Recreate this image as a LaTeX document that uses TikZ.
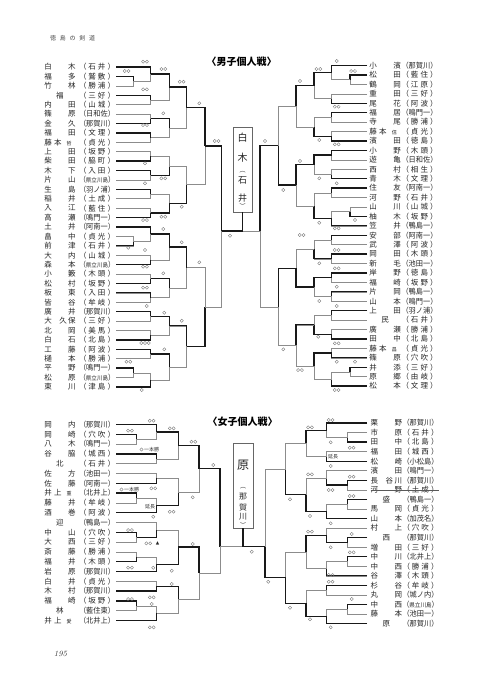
\documentclass[tikz,border=0pt]{standalone}
\usepackage{fontspec}
\usepackage{graphicx}
\newfontfamily\cjk{Noto Sans CJK JP}
\newfontfamily\dejavu{DejaVu Sans}
\newcommand\nB[2]{\hbox to 31.5pt{#1\hfill #2}}
\newcommand\nS[1]{\hbox to 31.5pt{\hfill #1\hfill}}
\newcommand\nT[3]{\hbox to 31.5pt{#1\hfill #2\hspace{1.5pt}#3}}
\newcommand\nX[3]{\hbox to 31.5pt{#1\hspace{2.5pt}#2\hfill{\fontsize{5}{5}\selectfont #3}\hspace{4pt}}}
\newcommand\scB[2]{\hbox to 36pt{（\hfill #1\hfill #2\hfill ）}}
\newcommand\scC[1]{\resizebox{36pt}{\height}{（#1）}}
\newcommand\scD[1]{\resizebox{36pt}{\height}{（{\fontsize{6}{6}\selectfont #1}）}}
\newcommand\mt[5]{%
  \draw[ln] (#2) -- (#2 -| #4) -- (#3 -| #4) -- (#3);
  \path (#2 -| #4) -- (#3 -| #4) coordinate[midway] (#1);
  \ifnum#5=1 \draw[wn] (#2) -- (#2 -| #4) -- (#1);\fi
  \ifnum#5=2 \draw[wn] (#3) -- (#3 -| #4) -- (#1);\fi
}
\newcommand\mk[3]{\foreach \k in {1,...,#3}{\draw[mkst] ({#1+(\k-(#3+1)/2)*3.8},#2) circle[radius=1.6pt];}}
\begin{document}
\begin{tikzpicture}[x=1pt,y=-1pt,
  ln/.style={line width=0.55pt, draw=black!45},
  wn/.style={line width=1.3pt, draw=black!90},
  txt/.style={inner sep=0pt, outer sep=0pt, anchor=west, text=black!85, font=\cjk\fontsize{7.5}{7.5}\selectfont},
  mkst/.style={line width=0.35pt, draw=black!55},
  small/.style={inner sep=0pt, anchor=west, text=black!80, font=\cjk\fontsize{5}{5}\selectfont},
  boxch/.style={inner sep=0pt, text=black!85}]
\useasboundingbox (0,0) rectangle (480,689);
\fill[white] (0,0) rectangle (480,689);
% level x positions
\coordinate (xa1) at (133.3,0); \coordinate (xa2) at (150.7,0); \coordinate (xa3) at (169.3,0);
\coordinate (xa4) at (186.7,0); \coordinate (xa5) at (205,0); \coordinate (xa6) at (221.7,0);
\coordinate (xb1) at (350,0); \coordinate (xb2) at (331.7,0); \coordinate (xb3) at (314,0);
\coordinate (xb4) at (296,0); \coordinate (xb5) at (278.3,0); \coordinate (xb6) at (260,0);
\coordinate (fa1) at (136.7,0); \coordinate (fa2) at (156.7,0); \coordinate (fa3) at (178.3,0);
\coordinate (fa4) at (199,0); \coordinate (fa5) at (220,0);
\coordinate (fb1) at (347.7,0); \coordinate (fb2) at (326.7,0); \coordinate (fb3) at (306,0);
\coordinate (fb4) at (285.7,0); \coordinate (fb5) at (265,0);
% headers
\node[inner sep=0pt, anchor=west, text=black!70, font=\cjk\fontsize{6}{6}\selectfont] (hdr) at (50,38) {\hbox to 45pt{徳\hfill 島\hfill の\hfill 剣\hfill 道}};
\node[inner sep=0pt, font=\cjk\bfseries\fontsize{10}{10}\selectfont] (tm) at (241.5,62) {〈男子個人戦〉};
\node[inner sep=0pt, font=\cjk\bfseries\fontsize{10}{10}\selectfont] (tf) at (242.5,421.7) {〈女子個人戦〉};
\node[inner sep=0pt, text=black!80, font=\fontsize{8}{8}\selectfont\itshape] (pg) at (60.5,654) {195};
% male left names
\foreach \xN/\xS [count=\i from 0] in {
\nB{白}{木}/\scB{石}{井}, \nB{福}{多}/\scB{鷲}{敷}, \nB{竹}{林}/\scB{勝}{浦}, \nS{福}/\scB{三}{好},
\nB{内}{田}/\scB{山}{城}, \nB{篠}{原}/\scC{日和佐}, \nB{金}{久}/\scC{那賀川}, \nB{福}{田}/\scB{文}{理},
\nX{藤}{本}{哲}/\scB{貞}{光}, \nB{上}{田}/\scB{坂}{野}, \nB{柴}{田}/\scB{脇}{町}, \nB{木}{下}/\scB{入}{田},
\nB{片}{山}/\scD{県立川島}, \nB{生}{島}/\scC{羽ノ浦}, \nB{稲}{井}/\scB{土}{成}, \nB{入}{江}/\scB{藍}{住},
\nB{高}{瀬}/\scC{鳴門一}, \nB{土}{井}/\scC{阿南一}, \nB{畠}{中}/\scB{貞}{光}, \nB{前}{津}/\scB{石}{井},
\nB{大}{内}/\scB{山}{城}, \nB{森}{本}/\scD{県立川島}, \nB{小}{籔}/\scB{木}{頭}, \nB{松}{村}/\scB{坂}{野},
\nB{板}{東}/\scB{入}{田}, \nB{皆}{谷}/\scB{牟}{岐}, \nB{廣}{井}/\scC{那賀川}, \nT{大}{久}{保}/\scB{三}{好},
\nB{北}{岡}/\scB{美}{馬}, \nB{白}{石}/\scB{北}{島}, \nB{工}{藤}/\scB{阿}{波}, \nB{樋}{本}/\scB{勝}{浦},
\nB{平}{野}/\scC{鳴門一}, \nB{松}{原}/\scD{県立川島}, \nB{東}{川}/\scB{津}{島}}{
  \node[txt] (mlN\i) at (44.25,{67+9.41*\i}) {\xN};
  \node[txt] (mlS\i) at (79,{67+9.41*\i}) {\xS};
  \coordinate (mlL\i) at (116,{67+9.41*\i});
}
% male right names
\foreach \xN/\xS [count=\i from 0] in {
\nB{小}{濱}/\scC{那賀川}, \nB{松}{田}/\scB{藍}{住}, \nB{鶴}{岡}/\scB{江}{原}, \nB{重}{田}/\scB{三}{好},
\nB{尾}{花}/\scB{阿}{波}, \nB{福}{居}/\scC{鳴門一}, \nB{寺}{尾}/\scB{勝}{浦}, \nX{藤}{本}{信}/\scB{貞}{光},
\nB{濱}{田}/\scB{徳}{島}, \nB{小}{野}/\scB{木}{頭}, \nB{遊}{亀}/\scC{日和佐}, \nB{西}{村}/\scB{相}{生},
\nB{青}{木}/\scB{文}{理}, \nB{住}{友}/\scC{阿南一}, \nB{河}{野}/\scB{石}{井}, \nB{山}{川}/\scB{山}{城},
\nB{柚}{木}/\scB{坂}{野}, \nB{笠}{井}/\scC{鴨島一}, \nB{安}{部}/\scC{阿南一}, \nB{武}{澤}/\scB{阿}{波},
\nB{岡}{田}/\scB{木}{頭}, \nB{新}{毛}/\scC{池田一}, \nB{岸}{野}/\scB{徳}{島}, \nB{福}{崎}/\scB{坂}{野},
\nB{片}{岡}/\scC{鴨島一}, \nB{山}{本}/\scC{鳴門一}, \nB{上}{田}/\scC{羽ノ浦}, \nS{民}/\scB{石}{井},
\nB{廣}{瀬}/\scB{勝}{浦}, \nB{田}{中}/\scB{北}{島}, \nX{藤}{本}{昌}/\scB{貞}{光}, \nB{篠}{原}/\scB{穴}{吹},
\nB{井}{添}/\scB{三}{好}, \nB{原}{郷}/\scB{由}{岐}, \nB{松}{本}/\scB{文}{理}}{
  \node[txt] (mrN\i) at (369.25,{65.5+9.43*\i}) {\xN};
  \node[txt] (mrS\i) at (401.5,{65.5+9.43*\i}) {\xS};
  \coordinate (mrL\i) at (367,{65.5+9.43*\i});
}
% female left names
\foreach \xN/\xS [count=\i from 0] in {
\nB{岡}{内}/\scC{那賀川}, \nB{岡}{崎}/\scB{穴}{吹}, \nB{八}{木}/\scC{鳴門一}, \nB{谷}{脇}/\scB{城}{西},
\nS{北}/\scB{石}{井}, \nB{佐}{方}/\scC{池田一}, \nB{佐}{藤}/\scC{阿南一}, \nX{井}{上}{重}/\scC{北井上},
\nB{藤}{井}/\scB{牟}{岐}, \nB{酒}{巻}/\scB{阿}{波}, \nS{迎}/\scC{鴨島一}, \nB{中}{山}/\scB{穴}{吹},
\nB{大}{西}/\scB{三}{好}, \nB{斎}{藤}/\scB{勝}{浦}, \nB{福}{井}/\scB{木}{頭}, \nB{岩}{原}/\scC{那賀川},
\nB{白}{井}/\scB{貞}{光}, \nB{木}{村}/\scC{那賀川}, \nB{福}{崎}/\scB{坂}{野}, \nS{林}/\scC{藍住東},
\nX{井}{上}{愛}/\scC{北井上}}{
  \node[txt] (flN\i) at (44.25,{424.5+9.8*\i}) {\xN};
  \node[txt] (flS\i) at (79,{424.5+9.8*\i}) {\xS};
  \coordinate (flL\i) at (116,{424.5+9.8*\i});
}
% female right names
\foreach \xN/\xS [count=\i from 0] in {
\nB{栗}{野}/\scC{那賀川}, \nB{市}{原}/\scB{石}{井}, \nB{田}{中}/\scB{北}{島}, \nB{福}{田}/\scB{城}{西},
\nB{松}{崎}/\scC{小松島}, \nB{濱}{田}/\scC{鳴門一}, \nT{長}{谷}{川}/\scC{那賀川}, \nB{河}{野}/\scB{土}{成},
\nS{盛}/\scC{鴨島一}, \nB{馬}{岡}/\scB{貞}{光}, \nB{山}{本}/\scC{加茂名}, \nB{村}{上}/\scB{穴}{吹},
\nS{西}/\scC{那賀川}, \nB{増}{田}/\scB{三}{好}, \nB{中}{川}/\scC{北井上}, \nB{中}{西}/\scB{勝}{浦},
\nB{谷}{澤}/\scB{木}{頭}, \nB{杉}{谷}/\scB{牟}{岐}, \nB{丸}{岡}/\scC{城ノ内}, \nB{中}{西}/\scD{県立川島},
\nB{藤}{本}/\scC{池田一}, \nS{原}/\scC{那賀川}}{
  \node[txt] (frN\i) at (370.5,{423+9.55*\i}) {\xN};
  \node[txt] (frS\i) at (402.5,{423+9.55*\i}) {\xS};
  \coordinate (frL\i) at (367,{423+9.55*\i});
}
\draw[line width=0.5pt, black!65] (frN7.west) -- (frS7.east);
% ===== male left bracket =====
\mt{mlA1}{mlL1}{mlL2}{xa1}{1}
\mt{mlA2}{mlL18}{mlL19}{xa1}{2}
\mt{mlA3}{mlL32}{mlL33}{xa1}{1}
\mt{mlB0}{mlL0}{mlA1}{xa2}{1}
\mt{mlB1}{mlL3}{mlL4}{xa2}{1}
\mt{mlB2}{mlL5}{mlL6}{xa2}{2}
\mt{mlB3}{mlL7}{mlL8}{xa2}{1}
\mt{mlB4}{mlL9}{mlL10}{xa2}{2}
\mt{mlB5}{mlL11}{mlL12}{xa2}{1}
\mt{mlB6}{mlL13}{mlL14}{xa2}{1}
\mt{mlB7}{mlL15}{mlL16}{xa2}{2}
\mt{mlB8}{mlL17}{mlA2}{xa2}{1}
\mt{mlB9}{mlL20}{mlL21}{xa2}{2}
\mt{mlB10}{mlL22}{mlL23}{xa2}{2}
\mt{mlB11}{mlL24}{mlL25}{xa2}{1}
\mt{mlB12}{mlL26}{mlL27}{xa2}{1}
\mt{mlB13}{mlL28}{mlL29}{xa2}{2}
\mt{mlB14}{mlL30}{mlL31}{xa2}{1}
\mt{mlB15}{mlA3}{mlL34}{xa2}{2}
\mt{mlC0}{mlB0}{mlB1}{xa3}{1}
\mt{mlC1}{mlB2}{mlB3}{xa3}{1}
\mt{mlC2}{mlB4}{mlB5}{xa3}{2}
\mt{mlC3}{mlB6}{mlB7}{xa3}{2}
\mt{mlC4}{mlB8}{mlB9}{xa3}{1}
\mt{mlC5}{mlB10}{mlB11}{xa3}{1}
\mt{mlC6}{mlB12}{mlB13}{xa3}{1}
\mt{mlC7}{mlB14}{mlB15}{xa3}{1}
\mt{mlD0}{mlC0}{mlC1}{xa4}{1}
\mt{mlD1}{mlC2}{mlC3}{xa4}{2}
\mt{mlD2}{mlC4}{mlC5}{xa4}{1}
\mt{mlD3}{mlC6}{mlC7}{xa4}{1}
\mt{mlE0}{mlD0}{mlD1}{xa5}{1}
\mt{mlE1}{mlD2}{mlD3}{xa5}{2}
% ===== male right bracket =====
\mt{mrA1}{mrL1}{mrL2}{xb1}{1}
\mt{mrA2}{mrL15}{mrL16}{xb1}{2}
\mt{mrA3}{mrL32}{mrL33}{xb1}{1}
\mt{mrB0}{mrL0}{mrA1}{xb2}{1}
\mt{mrB1}{mrL3}{mrL4}{xb2}{2}
\mt{mrB2}{mrL5}{mrL6}{xb2}{1}
\mt{mrB3}{mrL7}{mrL8}{xb2}{2}
\mt{mrB4}{mrL9}{mrL10}{xb2}{1}
\mt{mrB5}{mrL11}{mrL12}{xb2}{2}
\mt{mrB6}{mrL13}{mrL14}{xb2}{1}
\mt{mrB7}{mrA2}{mrL17}{xb2}{2}
\mt{mrB8}{mrL18}{mrL19}{xb2}{1}
\mt{mrB9}{mrL20}{mrL21}{xb2}{1}
\mt{mrB10}{mrL22}{mrL23}{xb2}{1}
\mt{mrB11}{mrL24}{mrL25}{xb2}{1}
\mt{mrB12}{mrL26}{mrL27}{xb2}{1}
\mt{mrB13}{mrL28}{mrL29}{xb2}{2}
\mt{mrB14}{mrL30}{mrL31}{xb2}{2}
\mt{mrB15}{mrA3}{mrL34}{xb2}{2}
\mt{mrC0}{mrB0}{mrB1}{xb3}{1}
\mt{mrC1}{mrB2}{mrB3}{xb3}{2}
\mt{mrC2}{mrB4}{mrB5}{xb3}{1}
\mt{mrC3}{mrB6}{mrB7}{xb3}{2}
\mt{mrC4}{mrB8}{mrB9}{xb3}{2}
\mt{mrC5}{mrB10}{mrB11}{xb3}{1}
\mt{mrC6}{mrB12}{mrB13}{xb3}{2}
\mt{mrC7}{mrB14}{mrB15}{xb3}{1}
\mt{mrD0}{mrC0}{mrC1}{xb4}{1}
\mt{mrD1}{mrC2}{mrC3}{xb4}{1}
\mt{mrD2}{mrC4}{mrC5}{xb4}{2}
\mt{mrD3}{mrC6}{mrC7}{xb4}{1}
\mt{mrE0}{mrD0}{mrD1}{xb5}{2}
\mt{mrE1}{mrD2}{mrD3}{xb5}{1}
% ===== male final =====
\node[draw=black!60, line width=0.5pt, minimum width=19pt, minimum height=85pt, inner sep=0pt] (mbox) at (242.7,169.5) {};
\node[boxch, font=\cjk\fontsize{10}{10}\selectfont] (mb1) at (242.7,138) {白};
\node[boxch, font=\cjk\fontsize{10}{10}\selectfont] (mb2) at (242.7,158) {木};
\node[boxch, font=\cjk\fontsize{6}{6}\selectfont] (mb3) at (242.7,172.5) {︵};
\node[boxch, font=\cjk\fontsize{9}{9}\selectfont] (mb4) at (242.7,180.5) {石};
\node[boxch, font=\cjk\fontsize{9}{9}\selectfont] (mb5) at (242.7,198) {井};
\node[boxch, font=\cjk\fontsize{6}{6}\selectfont] (mb6) at (242.7,206) {︶};
\coordinate (mcL) at (221.7,231); \coordinate (mcR) at (260,231);
\draw[ln] (mlE0) -- (mlE0 -| xa6) -- (mlE1 -| xa6) -- (mlE1);
\draw[wn] (mlE0) -- (mlE0 -| xa6) -- (mcL);
\draw[ln] (mrE0) -- (mrE0 -| xb6) -- (mrE1 -| xb6) -- (mrE1);
\draw[wn] (mrE0) -- (mrE0 -| xb6) -- (mcR);
\draw[ln] (mcL) -- (mcR);
\draw[wn] (mbox.south) -- (mbox.south |- mcL) -- (mcL);
% ===== female left bracket =====
\mt{flA1}{flL1}{flL2}{fa1}{1}
\mt{flA2}{flL7}{flL8}{fa1}{1}
\mt{flA3}{flL11}{flL12}{fa1}{1}
\mt{flA4}{flL13}{flL14}{fa1}{2}
\mt{flA5}{flL18}{flL19}{fa1}{1}
\mt{flB0}{flL0}{flA1}{fa2}{1}
\mt{flB1}{flL3}{flL4}{fa2}{1}
\mt{flB2}{flL5}{flL6}{fa2}{2}
\mt{flB3}{flA2}{flL9}{fa2}{2}
\mt{flB4}{flL10}{flA3}{fa2}{2}
\mt{flB5}{flA4}{flL15}{fa2}{2}
\mt{flB6}{flL16}{flL17}{fa2}{2}
\mt{flB7}{flA5}{flL20}{fa2}{2}
\mt{flC0}{flB0}{flB1}{fa3}{1}
\mt{flC1}{flB2}{flB3}{fa3}{2}
\mt{flC2}{flB4}{flB5}{fa3}{2}
\mt{flC3}{flB6}{flB7}{fa3}{1}
\mt{flD0}{flC0}{flC1}{fa4}{1}
\mt{flD1}{flC2}{flC3}{fa4}{1}
% ===== female right bracket =====
\mt{frA1}{frL1}{frL2}{fb1}{2}
\mt{frA2}{frL6}{frL7}{fb1}{1}
\mt{frA3}{frL8}{frL9}{fb1}{1}
\mt{frA4}{frL12}{frL13}{fb1}{1}
\mt{frA5}{frL14}{frL15}{fb1}{1}
\mt{frA6}{frL19}{frL20}{fb1}{1}
\mt{frB0}{frL0}{frA1}{fb2}{1}
\mt{frB1}{frL3}{frL4}{fb2}{2}
\mt{frB2}{frL5}{frA2}{fb2}{2}
\mt{frB3}{frA3}{frL10}{fb2}{2}
\mt{frB4}{frL11}{frA4}{fb2}{2}
\mt{frB5}{frA5}{frL16}{fb2}{2}
\mt{frB6}{frL17}{frL18}{fb2}{1}
\mt{frB7}{frA6}{frL21}{fb2}{2}
\mt{frC0}{frB0}{frB1}{fb3}{1}
\mt{frC1}{frB2}{frB3}{fb3}{2}
\mt{frC2}{frB4}{frB5}{fb3}{1}
\mt{frC3}{frB6}{frB7}{fb3}{2}
\mt{frD0}{frC0}{frC1}{fb4}{2}
\mt{frD1}{frC2}{frC3}{fb4}{2}
% ===== female final =====
\node[draw=black!60, line width=0.5pt, minimum width=20pt, minimum height=85pt, inner sep=0pt] (fbox) at (243,485.5) {};
\node[boxch, font=\cjk\fontsize{12}{12}\selectfont] (fb1c) at (243,465) {原};
\node[boxch, font=\cjk\fontsize{6}{6}\selectfont] (fb2c) at (243,488) {︵};
\node[boxch, font=\cjk\fontsize{8}{8}\selectfont] (fb3c) at (243,497) {那};
\node[boxch, font=\cjk\fontsize{8}{8}\selectfont] (fb4c) at (243,507) {賀};
\node[boxch, font=\cjk\fontsize{8}{8}\selectfont] (fb5c) at (243,517) {川};
\node[boxch, font=\cjk\fontsize{6}{6}\selectfont] (fb6c) at (243,524.5) {︶};
\coordinate (fcL) at (220,546.7); \coordinate (fcR) at (265,546.7);
\draw[ln] (flD0) -- (flD0 -| fa5) -- (flD1 -| fa5) -- (flD1);
\draw[wn] (flD0) -- (flD0 -| fa5) -- (fcL);
\draw[ln] (frD0) -- (frD0 -| fb5) -- (frD1 -| fb5) -- (frD1);
\draw[wn] (frD1) -- (frD1 -| fb5) -- (fcR);
\draw[ln] (fcL) -- (fcR);
\draw[wn] (fbox.south) -- (fbox.south |- fcR) -- (fcR);
% ===== annotations =====
\draw[mkst] (141.5,449.5) circle[radius=1.6pt];
\node[small] (ip1) at (144,449.5) {一本勝};
\draw[mkst] (121.5,489.5) circle[radius=1.6pt];
\node[small] (ip2) at (124,489.5) {一本勝};
\node[small] (en1) at (145,507) {延長};
\node[small] (en2) at (328,457) {延長};
\node[inner sep=0pt, text=black!85, font=\dejavu\fontsize{4.5}{4.5}\selectfont] (tri) at (157.5,543.3) {▲};
\foreach \mx/\my/\mn in {
145/61.7/2, 126.7/71/2, 163.3/69/2, 181.7/81.7/2, 145/89.3/2, 199.3/103.3/1, 163.3/113.3/1,
145/125/2, 216.7/141/2, 145/163.3/1, 163.3/178.3/2, 145/183.3/1, 181.7/206.7/1, 163.3/216.7/2,
145/220/2, 163.3/229/1, 230/235.7/1, 181.7/242.3/1, 128.3/247.7/1, 145/250/1, 199.3/262.3/1,
145/266.7/2, 163.3/273.3/1, 145/287.7/2, 146.7/306/1, 164.3/312.7/1, 181.7/320.7/1, 145/343/3,
164.3/349.3/1, 128.3/361.7/2, 141.7/390/1,
336.7/61/1, 318.3/69/2, 353/71/2, 300/81/1, 336.7/106.7/2, 319.3/140/1, 265/141/1, 336.7/144.3/2,
300/161/1, 319.3/178.3/1, 336.7/183.3/1, 283.3/190/1, 355/220/1, 319.3/222.7/1, 336.7/228.3/2,
301.7/235/2, 336.7/250/2, 319.3/263.3/1, 336.7/268.3/2, 336.7/286.7/1, 319.3/301/1, 336.7/306/1,
318.3/336.7/1, 336.7/343.3/2, 283.3/349.3/1, 336.7/361.7/1, 355/361.7/1, 300/370/2, 336.7/390/2,
151.7/420.7/2, 130/430.7/2, 171.7/428.3/2, 193.3/441.7/2, 213.3/465/1, 153.3/488.3/2, 192.7/497.3/1,
171.7/511.7/2, 153.3/516.7/1, 130/530/2, 148.3/543.3/2, 192.7/544/1, 130/567.7/2, 153.3/567.7/1,
171.7/570.7/1, 171.7/584/1, 130/599/2, 151.7/597.3/2, 151.7/604/1, 151.7/627.3/2, 251.7/551.7/1,
330.7/420/2, 310/427.3/2, 330.7/442.3/1, 351.7/447.7/2, 330.7/466/1, 310/474.3/2, 351.7/476.7/2,
330.7/490/2, 351.7/496/2, 290/499.3/1, 310/516/1, 330.7/523.3/1, 310/531.7/2, 351.7/534/1,
330.7/547.3/1, 351.7/552.3/2, 330.7/575/2, 330.7/581.7/2, 268.3/581.7/1, 351.7/599/1, 290/607.7/1,
310/619.3/1, 330.7/627.3/1}{\mk{\mx}{\my}{\mn}}
\end{tikzpicture}
\end{document}
